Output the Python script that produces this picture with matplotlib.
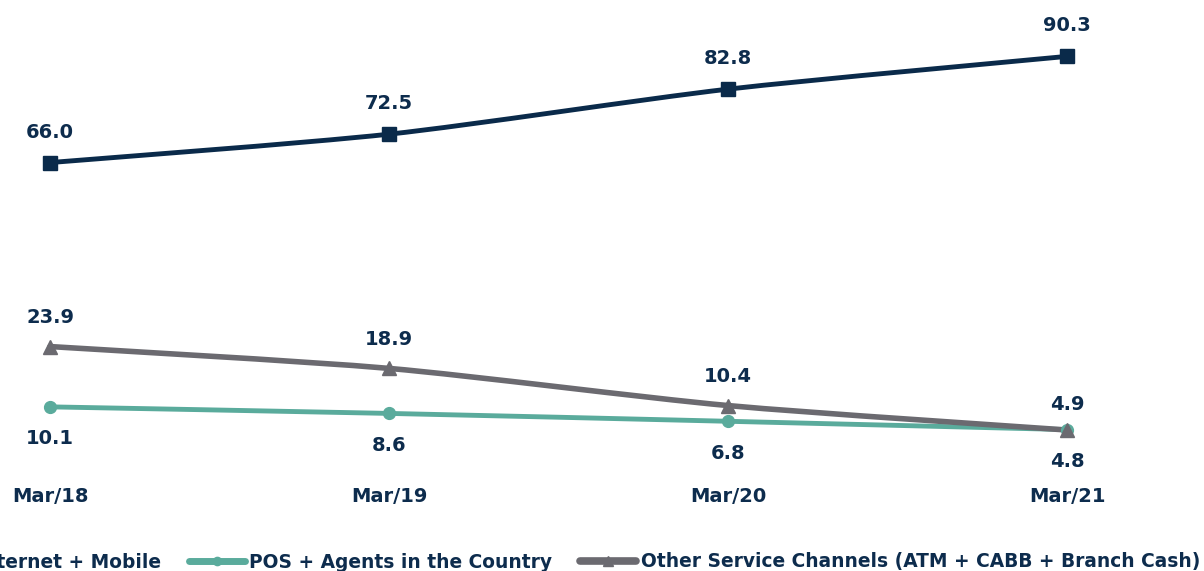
import matplotlib
matplotlib.use("Agg")
import matplotlib.pyplot as plt
from matplotlib.path import Path
from matplotlib.patches import PathPatch
from matplotlib.lines import Line2D
import numpy as np

# Data
periods = ["Mar/18", "Mar/19", "Mar/20", "Mar/21"]
internet_mobile = [66.0, 72.5, 82.8, 90.3]
pos_agents = [10.1, 8.6, 6.8, 4.9]
other_channels = [23.9, 18.9, 10.4, 4.8]
series_names = [
    "Internet + Mobile",
    "POS + Agents in the Country",
    "Other Service Channels (ATM + CABB + Branch Cash)",
]

NAVY = "#0a2a4a"
TEAL = "#5aab9c"
GRAY = "#6b6a70"
TEXT = "#0d2c4d"
FS = 14
LEGEND_FS = 13.4

plt.rcParams["font.family"] = ["DejaVu Sans"]
plt.rcParams["font.weight"] = "bold"

fig = plt.figure(figsize=(12.04, 5.71), dpi=100)
ax = fig.add_axes([0, 0, 1, 1])
ax.set_xlim(-0.1475, 3.404)
ax.set_ylim(-27.46, 103.2)
ax.axis("off")

x = np.arange(len(periods))


def smooth_path(xs, ys, k=8.0):
    """Cubic Bezier path through the points (gentle Catmull-Rom smoothing)."""
    pts = np.column_stack([xs, ys]).astype(float)
    n = len(pts)
    verts = [pts[0]]
    codes = [Path.MOVETO]
    for i in range(n - 1):
        p0 = pts[i - 1] if i > 0 else pts[i]
        p1 = pts[i]
        p2 = pts[i + 1]
        p3 = pts[i + 2] if i + 2 < n else pts[i + 1]
        c1 = p1 + (p2 - p0) / k
        c2 = p2 - (p3 - p1) / k
        verts += [c1, c2, p2]
        codes += [Path.CURVE4] * 3
    return Path(verts, codes)


styles = [
    (internet_mobile, NAVY, "s", 9.5, 3.5),
    (pos_agents, TEAL, "o", 8.5, 3.5),
    (other_channels, GRAY, "^", 9.5, 4.0),
]

handles = []
for (vals, color, marker, ms, lw), name in zip(styles, series_names):
    patch = PathPatch(smooth_path(x, vals), facecolor="none", edgecolor=color,
                      lw=lw, capstyle="round", joinstyle="round", zorder=2)
    ax.add_patch(patch)
    ax.plot(x, vals, linestyle="none", marker=marker, ms=ms, color=color, zorder=3)
    handles.append(Line2D([], [], color=color, lw=lw + 1.5, marker=marker,
                          ms=ms * 0.7, solid_capstyle="round"))

label_kw = dict(textcoords="offset points", ha="center", va="center",
                fontsize=FS, fontweight="bold", color=TEXT)

# Internet + Mobile: labels above
for xi, v in zip(x, internet_mobile):
    ax.annotate(f"{v:.1f}", (xi, v), xytext=(0, 22), **label_kw)

# POS + Agents: labels below, except last one above
for i, (xi, v) in enumerate(zip(x, pos_agents)):
    dy = 18 if i == len(x) - 1 else -23
    ax.annotate(f"{v:.1f}", (xi, v), xytext=(0, dy), **label_kw)

# Other channels: labels above, except last one below
for i, (xi, v) in enumerate(zip(x, other_channels)):
    dy = -23 if i == len(x) - 1 else 21
    ax.annotate(f"{v:.1f}", (xi, v), xytext=(0, dy), **label_kw)

# Category labels
for xi, lab in zip(x, periods):
    ax.text(xi, 1 - 496 / 571, lab, transform=ax.get_xaxis_transform(),
            ha="center", va="center", fontsize=FS, fontweight="bold", color=TEXT)

leg = ax.legend(handles, series_names, loc="center right",
                bbox_to_anchor=(1200 / 1204, 9 / 571), ncol=3, frameon=False,
                fontsize=LEGEND_FS, handlelength=3.0, handletextpad=0.25,
                columnspacing=1.5, borderpad=0, borderaxespad=0)
for t in leg.get_texts():
    t.set_color(TEXT)
    t.set_fontweight("bold")

fig.savefig("out.png", dpi=100)
